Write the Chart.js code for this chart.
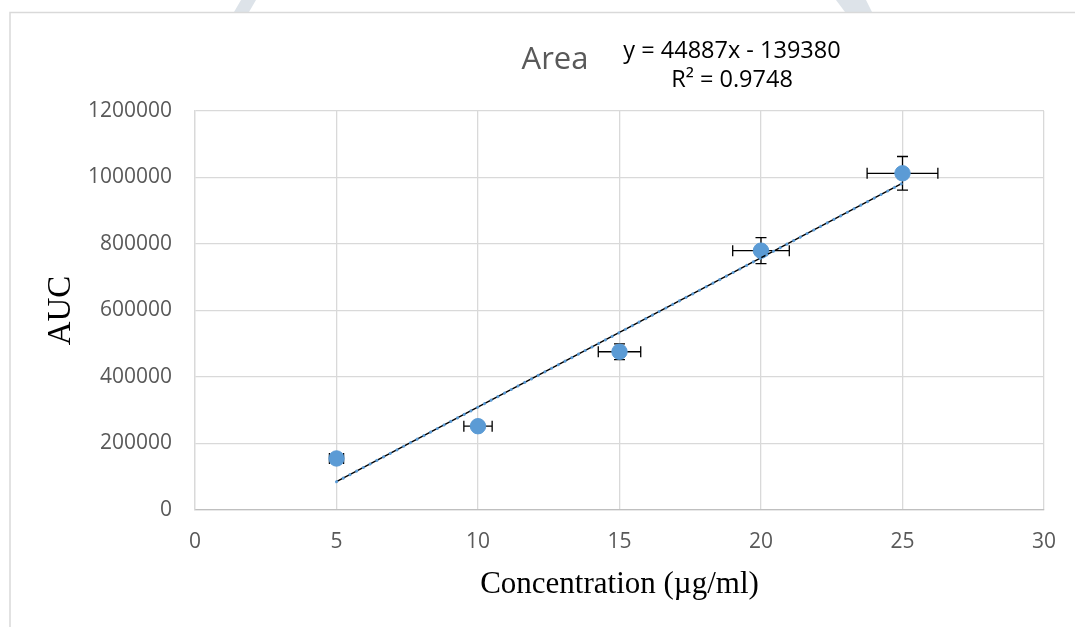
<!DOCTYPE html>
<html>
<head>
<meta charset="utf-8">
<script src="https://cdn.jsdelivr.net/npm/chart.js@4.4.1/dist/chart.umd.min.js"></script>
<style>
  html, body { margin: 0; padding: 0; background: #fff; }
  #wrap { width: 1075px; height: 627px; position: relative; }
</style>
</head>
<body>
<div id="wrap"><canvas id="areaChart" width="1075" height="627"></canvas></div>
<script>
// data
const concentration = [5, 10, 15, 20, 25];
const auc = [155000, 252000, 476000, 780000, 1012600];
const xErr = [0.25, 0.5, 0.75, 1.0, 1.25];
const yErr = [7750, 12600, 23800, 39000, 50600];
// trendline end points (y = 44887x - 139380)
const trendX = [5, 25];
const trendY = [85055, 982795];
const xTicks = [0, 5, 10, 15, 20, 25, 30];
const yTicks = [0, 200000, 400000, 600000, 800000, 1000000, 1200000];

const tickFont = { family: "'Open Sans', sans-serif", size: 21 };
const gray = "#595959";

// frame, faint watermark bits, title + trendline equation
const decor = {
  id: "decor",
  beforeDraw(chart) {
    const c = chart.ctx;
    c.save();
    c.fillStyle = "#fff";
    c.fillRect(0, 0, chart.width, chart.height);
    c.fillStyle = "#dde3e9";
    c.beginPath();
    c.moveTo(241, 0); c.lineTo(256, 0); c.lineTo(249, 12); c.lineTo(234, 12); c.closePath();
    c.fill();
    c.beginPath();
    c.moveTo(836, 0); c.lineTo(866, 0); c.lineTo(872, 12); c.lineTo(845, 12); c.closePath();
    c.fill();
    c.strokeStyle = "#d9d9d9";
    c.lineWidth = 1.5;
    c.beginPath();
    c.moveTo(10, 627); c.lineTo(10, 12.5); c.lineTo(1075, 12.5);
    c.stroke();
    c.restore();
  },
  afterDraw(chart) {
    const c = chart.ctx;
    c.save();
    c.textAlign = "center";
    c.textBaseline = "alphabetic";
    c.fillStyle = gray;
    c.font = "31px 'Open Sans', sans-serif";
    c.fillText("Area", 555, 69);
    c.fillStyle = "#000";
    c.font = "23.5px 'Open Sans', sans-serif";
    c.fillText("y = 44887x - 139380", 732, 58);
    c.fillText("R\u00b2 = 0.9748", 732, 87);
    c.restore();
  }
};

// x and y error bars, drawn under the markers
const errorBars = {
  id: "errorBars",
  beforeDatasetsDraw(chart) {
    const c = chart.ctx;
    const xs = chart.scales.x, ys = chart.scales.y;
    c.save();
    c.strokeStyle = "#000";
    c.lineWidth = 1.3;
    concentration.forEach((cx, i) => {
      const px = xs.getPixelForValue(cx);
      const py = ys.getPixelForValue(auc[i]);
      const x0 = xs.getPixelForValue(cx - xErr[i]);
      const x1 = xs.getPixelForValue(cx + xErr[i]);
      const y0 = ys.getPixelForValue(auc[i] - yErr[i]);
      const y1 = ys.getPixelForValue(auc[i] + yErr[i]);
      c.beginPath();
      c.moveTo(x0, py); c.lineTo(x1, py);
      c.moveTo(x0, py - 5.5); c.lineTo(x0, py + 5.5);
      c.moveTo(x1, py - 5.5); c.lineTo(x1, py + 5.5);
      c.moveTo(px, y0); c.lineTo(px, y1);
      c.moveTo(px - 5.5, y0); c.lineTo(px + 5.5, y0);
      c.moveTo(px - 5.5, y1); c.lineTo(px + 5.5, y1);
      c.stroke();
    });
    c.restore();
  }
};

const trendPts = trendX.map((x, i) => ({ x: x, y: trendY[i] }));

new Chart(document.getElementById("areaChart"), {
  type: "scatter",
  data: {
    datasets: [
      {
        label: "Linear (Area) dots",
        data: trendPts,
        showLine: true,
        borderColor: "#5b9bd5",
        borderWidth: 3,
        borderCapStyle: "round",
        borderDash: [0.1, 7.5],
        pointRadius: 0,
        fill: false
      },
      {
        label: "Linear (Area)",
        data: trendPts,
        showLine: true,
        borderColor: "#000",
        borderWidth: 1.4,
        pointRadius: 0,
        fill: false
      },
      {
        label: "Area",
        data: concentration.map((x, i) => ({ x: x, y: auc[i] })),
        backgroundColor: "#5b9bd5",
        borderColor: "#5b9bd5",
        pointRadius: 7.7,
        pointHoverRadius: 7.7
      }
    ]
  },
  options: {
    responsive: false,
    animation: false,
    events: [],
    layout: { padding: { top: 111, right: 29, bottom: 0, left: 0 } },
    plugins: {
      legend: { display: false },
      tooltip: { enabled: false }
    },
    scales: {
      x: {
        type: "linear",
        min: 0,
        max: 30,
        afterBuildTicks: (s) => { s.ticks = xTicks.map(v => ({ value: v })); },
        afterFit: (s) => { s.height = 117; },
        grid: { color: "#d9d9d9", lineWidth: 1.3, drawTicks: false },
        border: { color: "#bfbfbf", width: 1.3 },
        ticks: { color: gray, font: tickFont, padding: 19, maxRotation: 0 },
        title: {
          display: true,
          text: "Concentration (\u00b5g/ml)",
          color: "#000",
          font: { family: "'Liberation Serif', 'Times New Roman', serif", size: 31 },
          padding: { top: 0, bottom: 24 }
        }
      },
      y: {
        type: "linear",
        min: 0,
        max: 1200000,
        afterBuildTicks: (s) => { s.ticks = yTicks.map(v => ({ value: v })); },
        afterFit: (s) => { s.width = 195; },
        grid: { color: "#d9d9d9", lineWidth: 1.3, drawTicks: false },
        border: { color: "#d9d9d9", width: 1.3 },
        ticks: { color: gray, font: tickFont, padding: 23, callback: (v) => String(v) },
        title: {
          display: true,
          text: "AUC",
          color: "#000",
          font: { family: "'Liberation Serif', 'Times New Roman', serif", size: 33 },
          padding: { top: 42, bottom: 0 }
        }
      }
    }
  },
  plugins: [decor, errorBars]
});
</script>
</body>
</html>
